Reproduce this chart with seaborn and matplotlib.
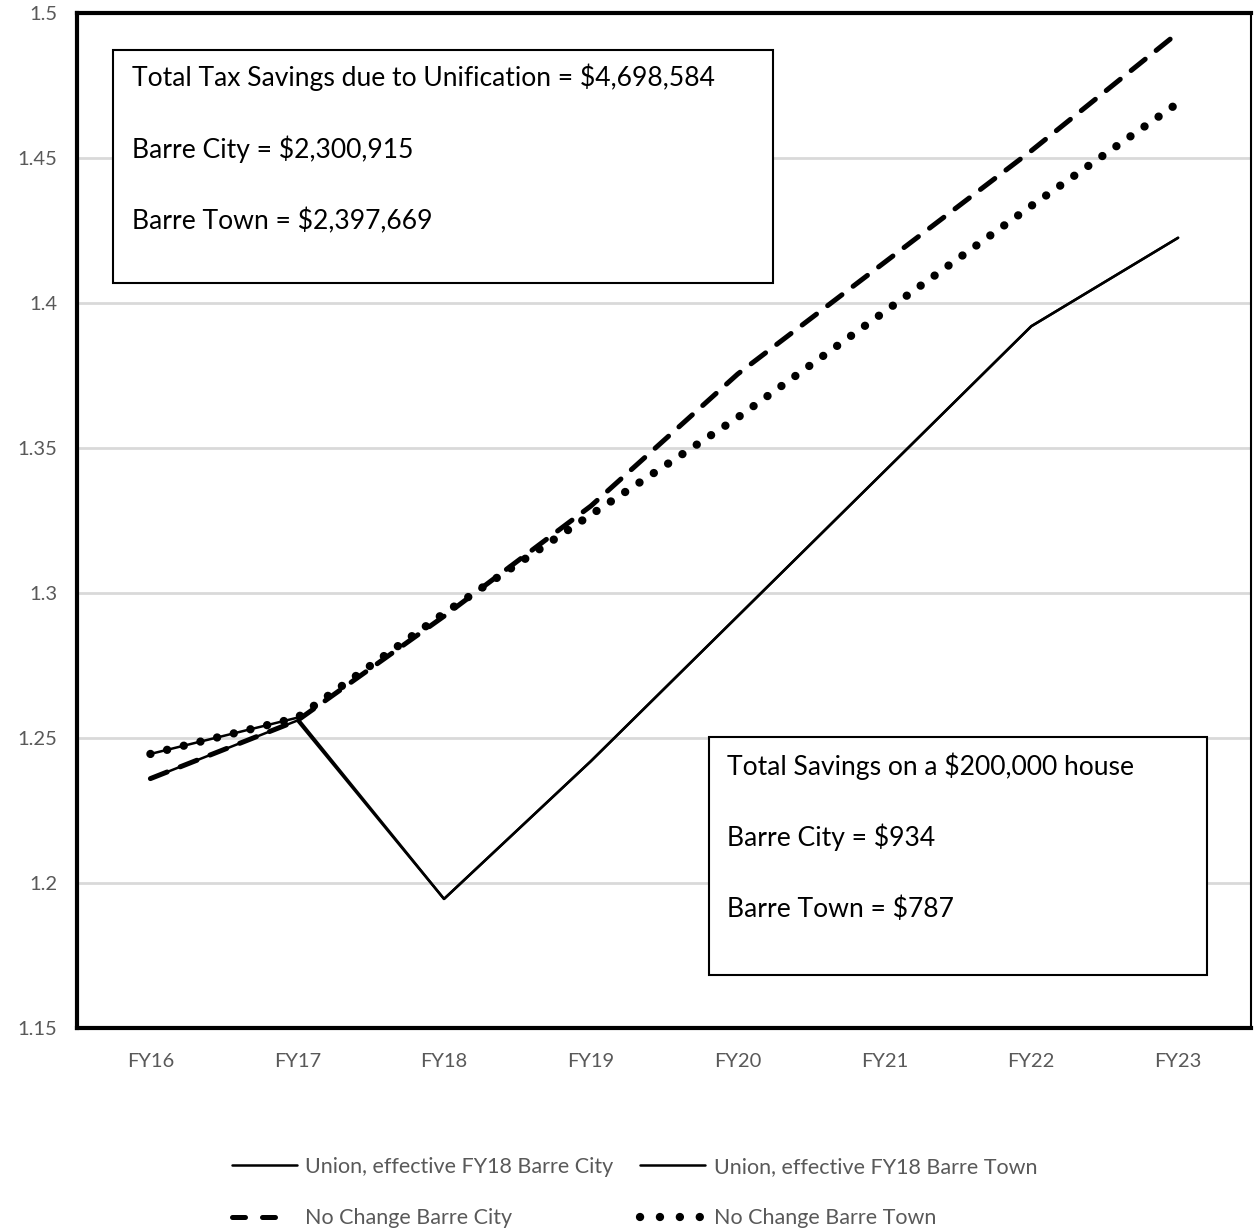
import matplotlib
matplotlib.use("Agg")
import matplotlib.pyplot as plt
import seaborn as sns
import pandas as pd
from matplotlib.patches import Rectangle
from matplotlib.lines import Line2D

years = ["FY16", "FY17", "FY18", "FY19", "FY20", "FY21", "FY22", "FY23"]
union_city = [1.236, 1.256, 1.1945, 1.242, 1.292, 1.342, 1.392, 1.4225]
union_town = [1.2445, 1.257, 1.1945, 1.242, 1.292, 1.342, 1.392, 1.4225]
nochange_city = [1.236, 1.256, 1.292, 1.330, 1.3755, 1.414, 1.4525, 1.4932]
nochange_town = [1.2445, 1.257, 1.293, 1.327, 1.3605, 1.397, 1.4335, 1.469]
series_names = ["Union, effective FY18 Barre City", "Union, effective FY18 Barre Town",
                "No Change Barre City", "No Change Barre Town"]
yticks = [1.15, 1.2, 1.25, 1.3, 1.35, 1.4, 1.45, 1.5]
box1_lines = ["Total Tax Savings due to Unification = $4,698,584",
              "Barre City = $2,300,915", "Barre Town = $2,397,669"]
box2_lines = ["Total Savings on a $200,000 house", "Barre City = $934", "Barre Town = $787"]

sns.set_theme(style="white")
plt.rcParams['font.family'] = ['Lato', 'DejaVu Sans']

fig = plt.figure(figsize=(12.54, 12.32), dpi=100)
ax = fig.add_axes([0.0614, 0.1656, 0.9366, 0.8238])

all_series = [union_city, union_town, nochange_city, nochange_town]
df = pd.DataFrame({"year": years * 4,
                   "value": sum(all_series, []),
                   "series": sum([[n] * len(years) for n in series_names], [])})

ax.yaxis.grid(True, color="#d9d9d9", lw=2, zorder=0)
ax.set_axisbelow(True)

styles = {
    series_names[0]: dict(lw=1.8, ls="-"),
    series_names[1]: dict(lw=1.8, ls="-"),
    series_names[2]: dict(lw=3.6, ls=(0, (3.6, 2.8)), dash_capstyle="round"),
    series_names[3]: dict(lw=6.0, ls=(0, (0.01, 2.05)), dash_capstyle="round"),
}
for name in series_names:
    sub = df[df["series"] == name]
    sns.lineplot(data=sub, x="year", y="value", ax=ax, color="black",
                 sort=False, label=name, legend=False, **styles[name])

# legend proxies (same look, pattern tuned to the short legend handle)
legend_styles = {
    series_names[0]: dict(lw=1.8, ls="-"),
    series_names[1]: dict(lw=1.8, ls="-"),
    series_names[2]: dict(lw=3.6, ls=(0, (2.6, 3.4, 2.6, 30)), dash_capstyle="round"),
    series_names[3]: dict(lw=6.0, ls=(0, (0.01, 2.38, 0.01, 2.38, 0.01, 2.38, 0.01, 30)),
                          dash_capstyle="round"),
}
handles = {n: Line2D([], [], color="black", **legend_styles[n]) for n in series_names}

ax.set_xlim(-0.5, 7.5)
ax.set_ylim(1.15, 1.5)
ax.set_yticks(yticks)
ax.set_yticklabels([f"{v:g}" for v in yticks])
ax.set_xlabel("")
ax.set_ylabel("")
ax.tick_params(axis="both", length=0, labelsize=14.5, colors="#595959", pad=14)
ax.tick_params(axis="x", pad=18)
for side in ["left", "top", "bottom"]:
    ax.spines[side].set_visible(True)
    ax.spines[side].set_color("black")
    ax.spines[side].set_linewidth(3)
ax.spines["right"].set_color("black")
ax.spines["right"].set_linewidth(1.5)

# annotation boxes (axes fraction coords)
def px_to_ax(xp, yp):
    x0, x1 = 77, 1252
    y0, y1 = 1028, 13
    return (xp - x0) / (x1 - x0), (y0 - yp) / (y0 - y1)

def add_box(x0p, y0p, x1p, y1p, lines, tx, tys):
    ax0, ay1 = px_to_ax(x0p, y0p)
    ax1, ay0 = px_to_ax(x1p, y1p)
    ax.add_patch(Rectangle((ax0, ay0), ax1 - ax0, ay1 - ay0, transform=ax.transAxes,
                           facecolor="white", edgecolor="black", lw=1.5, zorder=5))
    for line, ty in zip(lines, tys):
        xx, yy = px_to_ax(tx, ty)
        ax.text(xx, yy, line, transform=ax.transAxes, ha="left", va="center",
                fontsize=19.1, color="black", zorder=6)

add_box(113, 50, 773, 283, box1_lines, 132, [77, 149, 221])
add_box(709, 737, 1207, 975, box2_lines, 727, [766, 837, 909])

order = [series_names[0], series_names[2], series_names[1], series_names[3]]
fig.legend([handles[n] for n in order], order, loc="center", ncol=2,
           bbox_to_anchor=(0.506, 0.032), frameon=False, fontsize=15.5,
           labelcolor="#595959", handlelength=3.0, handletextpad=0.4,
           columnspacing=1.25, labelspacing=1.45)

fig.savefig("out.png", dpi=100, facecolor="white")
